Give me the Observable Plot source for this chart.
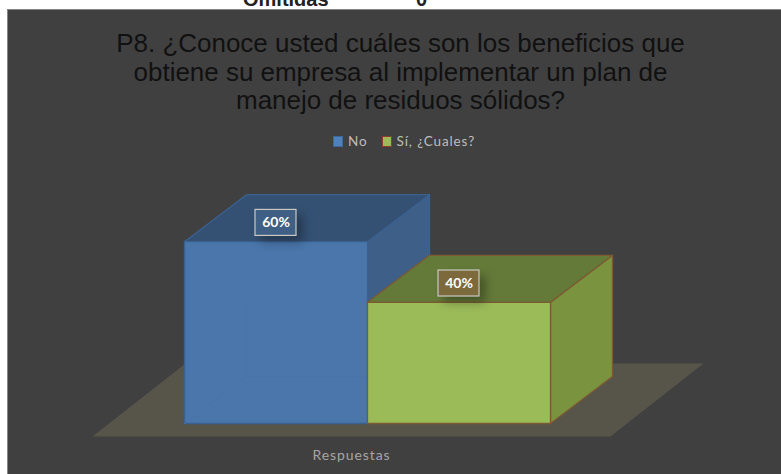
<!DOCTYPE html>
<html lang="es">
<head>
<meta charset="utf-8">
<script src="https://cdn.jsdelivr.net/npm/d3@7"></script>
<script src="https://cdn.jsdelivr.net/npm/@observablehq/plot@0.6"></script>
<style>
html,body{margin:0;padding:0;background:#fff;overflow:hidden}
#page{position:relative;width:781px;height:474px;overflow:hidden}
#clip{position:absolute;left:0;top:-13px;width:781px;font:bold 20px "Liberation Sans",Arial,sans-serif;color:#222;height:24px;line-height:24px}
#clip span{position:absolute;white-space:nowrap}
#panel{position:absolute;left:7px;top:9px;width:774px;height:465px;background:#404040;box-shadow:inset 1px 1px 0 #858585}
#title{position:absolute;left:0;top:20px;width:787px;text-align:center;font:26px/28.7px "Liberation Sans",Arial,sans-serif;color:#111;letter-spacing:-.02px}
#legend{position:absolute;left:326px;top:124px;display:flex;align-items:center;font:13.5px Lato,sans-serif;color:#bdbdbd;letter-spacing:.9px;white-space:nowrap}
#legend i{display:inline-block;width:8px;height:9px;margin-right:5px;border:1px solid}
#legend span{margin-right:14px}
#chart{position:absolute;left:0;top:0}
.axis-name text{letter-spacing:.9px}
</style>
</head>
<body>
<div id="page">
  <div id="clip"><span style="left:243px">Omitidas</span><span style="left:416px">0</span></div>
  <div id="panel">
    <div id="title">P8. ¿Conoce usted cuáles son los beneficios que<br>obtiene su empresa al implementar un plan de<br>manejo de residuos sólidos?</div>
    <div id="legend"></div>
    <div id="chart"></div>
  </div>
</div>
<script>
const categories = ["No", "Sí, ¿Cuales?"];
const percentages = [60, 40];
const labels = ["60%", "40%"];
const axisLabel = "Respuestas";

const fronts = ["#4a76ab", "#9bbb59"];
const tops = ["#345173", "#647a39"];
const sides = ["#3e5f88", "#7a933f"];
const strokes = ["#3b6191", "#7c5a33"];
const labelFills = ["#3f5f85", "#7c6a3c"];
const legendSwatch = [["#4f81bd", "#3f6797"], ["#9bbb59", "#8a3f2c"]];

const W = 774, H = 465;
// scale anchors: one category = 183px, 1% = 3.03px, origin at (177, 414) inside the panel
const xUnit = 183, yUnit = 3.03, x0 = 177, y0 = 414;
const depthX = 62 / xUnit, depthY = 47 / yUnit;
const floorPad = 92 / xUnit, floorFront = -13 / yUnit;

const face = (pts, fill, stroke, extra = {}) =>
  Plot.line([...pts, pts[0]].map(([x, y]) => ({x, y})),
    {x: "x", y: "y", fill, stroke: stroke ?? "none", strokeWidth: 1.3, strokeLinejoin: "round", curve: "linear", ...extra});

const bar = (i) => {
  const v = percentages[i], a = i, b = i + 1;
  return [
    face([[b, 0], [b + depthX, depthY], [b + depthX, v + depthY], [b, v]], sides[i], strokes[i]),
    face([[a, v], [a + depthX, v + depthY], [b + depthX, v + depthY], [b, v]], tops[i], strokes[i]),
    face([[a, 0], [b, 0], [b, v], [a, v]], fronts[i], strokes[i])
  ];
};

const floorL = -floorPad, floorR = 2 + 60 / xUnit;
const floor = face([[floorL, floorFront], [floorR, floorFront],
                    [floorR + 93 / xUnit, floorFront + 73 / yUnit], [floorL + 93 / xUnit, floorFront + 73 / yUnit]], "#57544a");

const boxHalfX = 20.5 / xUnit, boxHalfY = 13 / yUnit, lift = 6.2;
const boxes = percentages.map((v, i) => ({
  x1: i + .5 - boxHalfX, x2: i + .5 + boxHalfX,
  y1: v + lift - boxHalfY, y2: v + lift + boxHalfY,
  label: labels[i], fill: labelFills[i]
}));

const plot = Plot.plot({
  width: W, height: H,
  margin: 0,
  style: {background: "transparent", overflow: "visible"},
  x: {type: "linear", domain: [-x0 / xUnit, (W - x0) / xUnit], range: [0, W], axis: null},
  y: {type: "linear", domain: [-(H - y0) / yUnit, y0 / yUnit], range: [H, 0], axis: null},
  marks: [
    floor,
    ...bar(0),
    Plot.line([[0, 0], [depthX, depthY], [1, depthY]].map(([x, y]) => ({x, y})),
      {x: "x", y: "y", stroke: "#4674ab", strokeWidth: 1, curve: "linear"}),
    Plot.ruleX([depthX], {y1: depthY, y2: 40, stroke: "#4674ab", strokeWidth: 1}),
    ...bar(1),
    Plot.rect(boxes, {
      x1: "x1", x2: "x2", y1: "y1", y2: "y2",
      fill: "fill", stroke: "#c9c9c2", strokeWidth: 1.2,
      imageFilter: "drop-shadow(6px 6px 5px rgba(0,0,0,.3))"
    }),
    Plot.text(boxes, {
      x: d => (d.x1 + d.x2) / 2, y: d => (d.y1 + d.y2) / 2, text: "label",
      fill: "white", fontFamily: "Lato, sans-serif", fontWeight: 700, fontSize: 14
    }),
    Plot.text([axisLabel], {
      x: [(floorL + floorR) / 2], y: [floorFront - 6.2], text: d => d,
      fill: "#a6a6a6", fontFamily: "Lato, sans-serif", fontSize: 14,
      className: "axis-name"
    })
  ]
});
document.getElementById("chart").append(plot);

const legend = document.getElementById("legend");
categories.forEach((c, i) => {
  const sw = document.createElement("i");
  sw.style.background = legendSwatch[i][0];
  sw.style.borderColor = legendSwatch[i][1];
  const t = document.createElement("span");
  t.textContent = c;
  legend.append(sw, t);
});
</script>
</body>
</html>
